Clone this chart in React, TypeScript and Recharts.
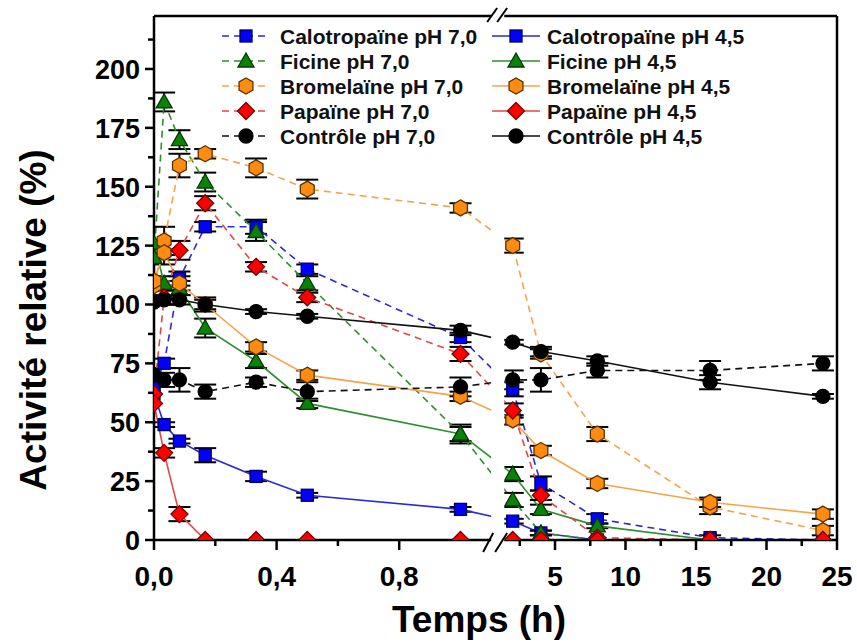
import React from "react";
import {
  LineChart,
  Line,
  XAxis,
  YAxis,
  ErrorBar,
  ReferenceArea,
  ReferenceLine,
  Label,
} from "recharts";

const FONT = '"Liberation Sans", Arial, Helvetica, sans-serif';

// sampling times (h): 0, 2, 5, 10, 20, 30 min, then 1 to 24 h
const hours = [0, 0.033, 0.083, 0.167, 0.333, 0.5, 1, 2, 4, 8, 16, 24];

const calo70 = [65, 75, 111, 133, 133, 115, 86, 64, 24, 9, 1, 0];
const calo70Err = [null, 2, 3, 2, 3, 2, 2, 3, 3, 2, 1, null];
const calo45 = [62, 49, 42, 36, 27, 19, 13, 8, 3, 0, 0, 0];
const calo45Err = [null, 1, 1, 3, 2, 1, 1, 1, 1, null, null, null];

const fic70 = [120, 186, 170, 152, 131, 109, 45, 17, 3, 0, 0, 0];
const fic70Err = [null, 4, 4, 4, 4, 3, 4, 3, 1, null, null, null];
const fic45 = [126, 109, 107, 90, 76, 58, 45, 28, 13, 6, 0, 0];
const fic45Err = [null, 3, 3, 4, 3, 2, 3, 3, 2, 1, null, null];

const brom70 = [108, 127, 159, 164, 158, 149, 141, 125, 79, 45, 14, 4];
const brom70Err = [null, 6, 5, 2, 4, 4, 2, 3, 2, 3, 3, 2];
const brom45 = [110, 122, 109, 100, 82, 70, 61, 51, 38, 24, 16, 11];
const brom45Err = [null, 5, 3, 3, 2, 2, 2, 2, 2, 2, 2, 2];

const pap70 = [62, 103, 123, 143, 116, 103, 79, 55, 19, 1, 0, 0];
const pap70Err = [null, 3, 4, 3, 2, 2, 3, 3, 2, null, null, null];
const pap45 = [58, 37, 11, 0, 0, 0, 0, 0, 0, 0, 0, 0];
const pap45Err = [null, 2, 3, null, null, null, null, null, null, null, null, null];

const ctrl70 = [70, 68, 68, 63, 67, 63, 65, 68, 68, 72, 72, 75];
const ctrl70Err = [null, 3, 5, 3, 2, 4, 4, 4, 5, 3, 4, 3];
const ctrl45 = [101, 102, 102, 100, 97, 95, 89, 84, 80, 76, 67, 61];
const ctrl45Err = [null, 2, 2, 2, 1, 1, 2, 1, 2, 2, 3, 1];

const xTickHours = [0, 0.2, 0.4, 0.6, 0.8, 2.5, 5, 7.5, 10, 12.5, 15, 17.5, 20, 22.5, 25];
const xTickLabels = ["0,0", "", "0,4", "", "0,8", "", "5", "", "10", "", "15", "", "20", "", "25"];
const yTicks = [0, 12.5, 25, 37.5, 50, 62.5, 75, 87.5, 100, 112.5, 125, 137.5, 150, 162.5, 175, 187.5, 200, 212.5];
const yTickLabels = ["0", "", "25", "", "50", "", "75", "", "100", "", "125", "", "150", "", "175", "", "200", ""];

// broken time axis: 0-1.1 h on the left, the rest compressed on the right
const LEFT_END = 1.1;
const RIGHT_START = 1.4;
const RIGHT_OFFSET = 1.0783;
const RIGHT_SCALE = 0.046;
const toAxis = (h: number) => (h <= LEFT_END ? h : RIGHT_OFFSET + RIGHT_SCALE * h);
const X_MAX = toAxis(25);
const Y_MAX = 222.5;

type Shape = "square" | "triangle" | "hexagon" | "diamond" | "circle";

interface Series {
  key: string;
  name: string;
  values: number[];
  errors: (number | null)[];
  line: string;
  fill: string;
  edge: string;
  shape: Shape;
  dashed: boolean;
}

const BLUE = { line: "#2a2ad8", fill: "#0000ff", edge: "#00005a", shape: "square" as Shape };
const GREEN = { line: "#2f8f2f", fill: "#0a820a", edge: "#033803", shape: "triangle" as Shape };
const ORANGE = { line: "#f2a54a", fill: "#ff8c10", edge: "#5c3300", shape: "hexagon" as Shape };
const RED = { line: "#e04848", fill: "#ff0000", edge: "#7a0000", shape: "diamond" as Shape };
const BLACK = { line: "#111111", fill: "#000000", edge: "#000000", shape: "circle" as Shape };

const series: Series[] = [
  { key: "calo70", name: "Calotropaïne pH 7,0", values: calo70, errors: calo70Err, dashed: true, ...BLUE },
  { key: "calo45", name: "Calotropaïne pH 4,5", values: calo45, errors: calo45Err, dashed: false, ...BLUE },
  { key: "fic70", name: "Ficine pH 7,0", values: fic70, errors: fic70Err, dashed: true, ...GREEN },
  { key: "fic45", name: "Ficine pH 4,5", values: fic45, errors: fic45Err, dashed: false, ...GREEN },
  { key: "brom70", name: "Bromelaïne pH 7,0", values: brom70, errors: brom70Err, dashed: true, ...ORANGE },
  { key: "brom45", name: "Bromelaïne pH 4,5", values: brom45, errors: brom45Err, dashed: false, ...ORANGE },
  { key: "pap70", name: "Papaïne pH 7,0", values: pap70, errors: pap70Err, dashed: true, ...RED },
  { key: "pap45", name: "Papaïne pH 4,5", values: pap45, errors: pap45Err, dashed: false, ...RED },
  { key: "ctrl70", name: "Contrôle pH 7,0", values: ctrl70, errors: ctrl70Err, dashed: true, ...BLACK },
  { key: "ctrl45", name: "Contrôle pH 4,5", values: ctrl45, errors: ctrl45Err, dashed: false, ...BLACK },
];

const legendRows = [
  ["calo70", "calo45"],
  ["fic70", "fic45"],
  ["brom70", "brom45"],
  ["pap70", "pap45"],
  ["ctrl70", "ctrl45"],
];

const data = hours.map((h, i) => {
  const row: Record<string, number | null> = { u: toAxis(h) };
  series.forEach((s) => {
    row[s.key] = s.values[i];
    row[s.key + "Err"] = s.errors[i];
  });
  return row;
});

const xTicks = xTickHours.map(toAxis);

function Marker({ cx, cy, shape, fill, edge }: { cx: number; cy: number; shape: Shape; fill: string; edge: string }) {
  const common = { fill, stroke: edge, strokeWidth: 1.3 };
  if (shape === "square") return <rect x={cx - 6} y={cy - 6} width={12} height={12} {...common} />;
  if (shape === "triangle")
    return <polygon points={`${cx},${cy - 8} ${cx + 8},${cy + 6} ${cx - 8},${cy + 6}`} {...common} />;
  if (shape === "diamond")
    return <polygon points={`${cx},${cy - 8.5} ${cx + 8.5},${cy} ${cx},${cy + 8.5} ${cx - 8.5},${cy}`} {...common} />;
  if (shape === "hexagon") {
    const r = 8;
    const pts = [-90, -30, 30, 90, 150, 210]
      .map((a) => `${cx + r * Math.cos((a * Math.PI) / 180)},${cy + r * Math.sin((a * Math.PI) / 180)}`)
      .join(" ");
    return <polygon points={pts} {...common} />;
  }
  return <circle cx={cx} cy={cy} r={7} {...common} />;
}

const makeDot = (s: Series) => (p: any) => {
  if (p.cx == null || p.cy == null || p.value == null) return <g key={`${s.key}-${p.index}`} />;
  return <Marker key={`${s.key}-${p.index}`} cx={p.cx} cy={p.cy} shape={s.shape} fill={s.fill} edge={s.edge} />;
};

function XTick(props: any) {
  const { x, y, payload } = props;
  const idx = xTicks.findIndex((v) => Math.abs(v - payload.value) < 1e-6);
  const label = idx >= 0 ? xTickLabels[idx] : "";
  const len = label ? 10 : 6;
  return (
    <g>
      <line x1={x} x2={x} y1={y} y2={y + len} stroke="#000" strokeWidth={2.5} />
      {label && (
        <text x={x} y={y + 46} textAnchor="middle" fontSize={28} fontWeight={700} fontFamily={FONT} fill="#000">
          {label}
        </text>
      )}
    </g>
  );
}

function YTick(props: any) {
  const { x, y, payload } = props;
  const idx = yTicks.findIndex((v) => Math.abs(v - payload.value) < 1e-6);
  const label = idx >= 0 ? yTickLabels[idx] : "";
  const len = label ? 9 : 6;
  return (
    <g>
      <line x1={x} x2={x - len} y1={y} y2={y} stroke="#000" strokeWidth={2.5} />
      {label && (
        <text x={x - 14} y={y + 10} textAnchor="end" fontSize={27} fontWeight={700} fontFamily={FONT} fill="#000">
          {label}
        </text>
      )}
    </g>
  );
}

function BreakMark(props: any) {
  const { x, y, width, height } = props;
  const b = y + height;
  const ln = { stroke: "#000", strokeWidth: 2 };
  return (
    <g>
      <rect x={x} y={y - 8} width={width} height={height + 16} fill="#fff" />
      <line x1={x - 8} y1={b + 12} x2={x + 2} y2={b - 7} {...ln} />
      <line x1={x + 4} y1={b + 12} x2={x + 16} y2={b - 7} {...ln} />
      <line x1={x - 4} y1={y + 6} x2={x + 6} y2={y - 8} {...ln} />
      <line x1={x + 6} y1={y + 6} x2={x + 16} y2={y - 8} {...ln} />
    </g>
  );
}

function LegendOverlay() {
  const byKey = Object.fromEntries(series.map((s) => [s.key, s]));
  const cols = [
    { x0: 222, x1: 270, tx: 280 },
    { x0: 492, x1: 540, tx: 547 },
  ];
  return (
    <svg width={857} height={643} style={{ position: "absolute", left: 0, top: 0, pointerEvents: "none" }}>
      {legendRows.map((row, i) => {
        const cy = 36 + 25 * i;
        return row.map((k, c) => {
          const s = byKey[k];
          const col = cols[c];
          const mid = (col.x0 + col.x1) / 2;
          return (
            <g key={k}>
              <line
                x1={col.x0}
                x2={col.x1}
                y1={cy}
                y2={cy}
                stroke={s.line}
                strokeWidth={1.6}
                strokeDasharray={s.dashed ? "7 5" : undefined}
              />
              <Marker cx={mid} cy={cy} shape={s.shape} fill={s.fill} edge={s.edge} />
              <text x={col.tx} y={cy + 7.5} fontSize={21} fontWeight={700} fontFamily={FONT} fill="#111">
                {s.name}
              </text>
            </g>
          );
        });
      })}
    </svg>
  );
}

export default function App() {
  return (
    <div style={{ position: "absolute", left: 0, top: 0, width: 857, height: 643, background: "#fff" }}>
      <LineChart width={857} height={643} data={data} margin={{ top: 16, right: 20, bottom: 0, left: 0 }}>
        <XAxis
          dataKey="u"
          type="number"
          domain={[0, X_MAX]}
          ticks={xTicks}
          interval={0}
          allowDataOverflow
          height={103}
          tickSize={0}
          tickMargin={0}
          tickLine={false}
          tick={<XTick />}
          axisLine={{ stroke: "#000", strokeWidth: 2.5 }}
        >
          <Label
            content={() => (
              <text x={479} y={632} textAnchor="middle" fontSize={37} fontWeight={700} fontFamily={FONT} fill="#000">
                Temps (h)
              </text>
            )}
          />
        </XAxis>
        <YAxis
          type="number"
          domain={[0, Y_MAX]}
          ticks={yTicks}
          interval={0}
          allowDataOverflow
          width={154}
          tickSize={0}
          tickMargin={0}
          tickLine={false}
          tick={<YTick />}
          axisLine={{ stroke: "#000", strokeWidth: 2.5 }}
        >
          <Label
            content={() => (
              <text
                x={46}
                y={320}
                transform="rotate(-90 46 320)"
                textAnchor="middle"
                fontSize={37}
                fontWeight={700}
                fontFamily={FONT}
                fill="#000"
              >
                Activité relative (%)
              </text>
            )}
          />
        </YAxis>
        <ReferenceLine y={Y_MAX} stroke="#000" strokeWidth={2.5} />
        <ReferenceLine x={X_MAX} stroke="#000" strokeWidth={2.5} />
        {series.map((s) => (
          <Line
            key={s.key}
            dataKey={s.key}
            type="linear"
            stroke={s.line}
            strokeWidth={1.6}
            strokeDasharray={s.dashed ? "7 5" : undefined}
            dot={makeDot(s)}
            activeDot={false}
            isAnimationActive={false}
          >
            <ErrorBar dataKey={s.key + "Err"} width={11} strokeWidth={2} stroke="#000" direction="y" />
          </Line>
        ))}
        <ReferenceArea
          x1={toAxis(LEFT_END)}
          x2={toAxis(RIGHT_START)}
          shape={<BreakMark />}
          ifOverflow="visible"
          zIndex={1500}
        />
      </LineChart>
      <LegendOverlay />
    </div>
  );
}
